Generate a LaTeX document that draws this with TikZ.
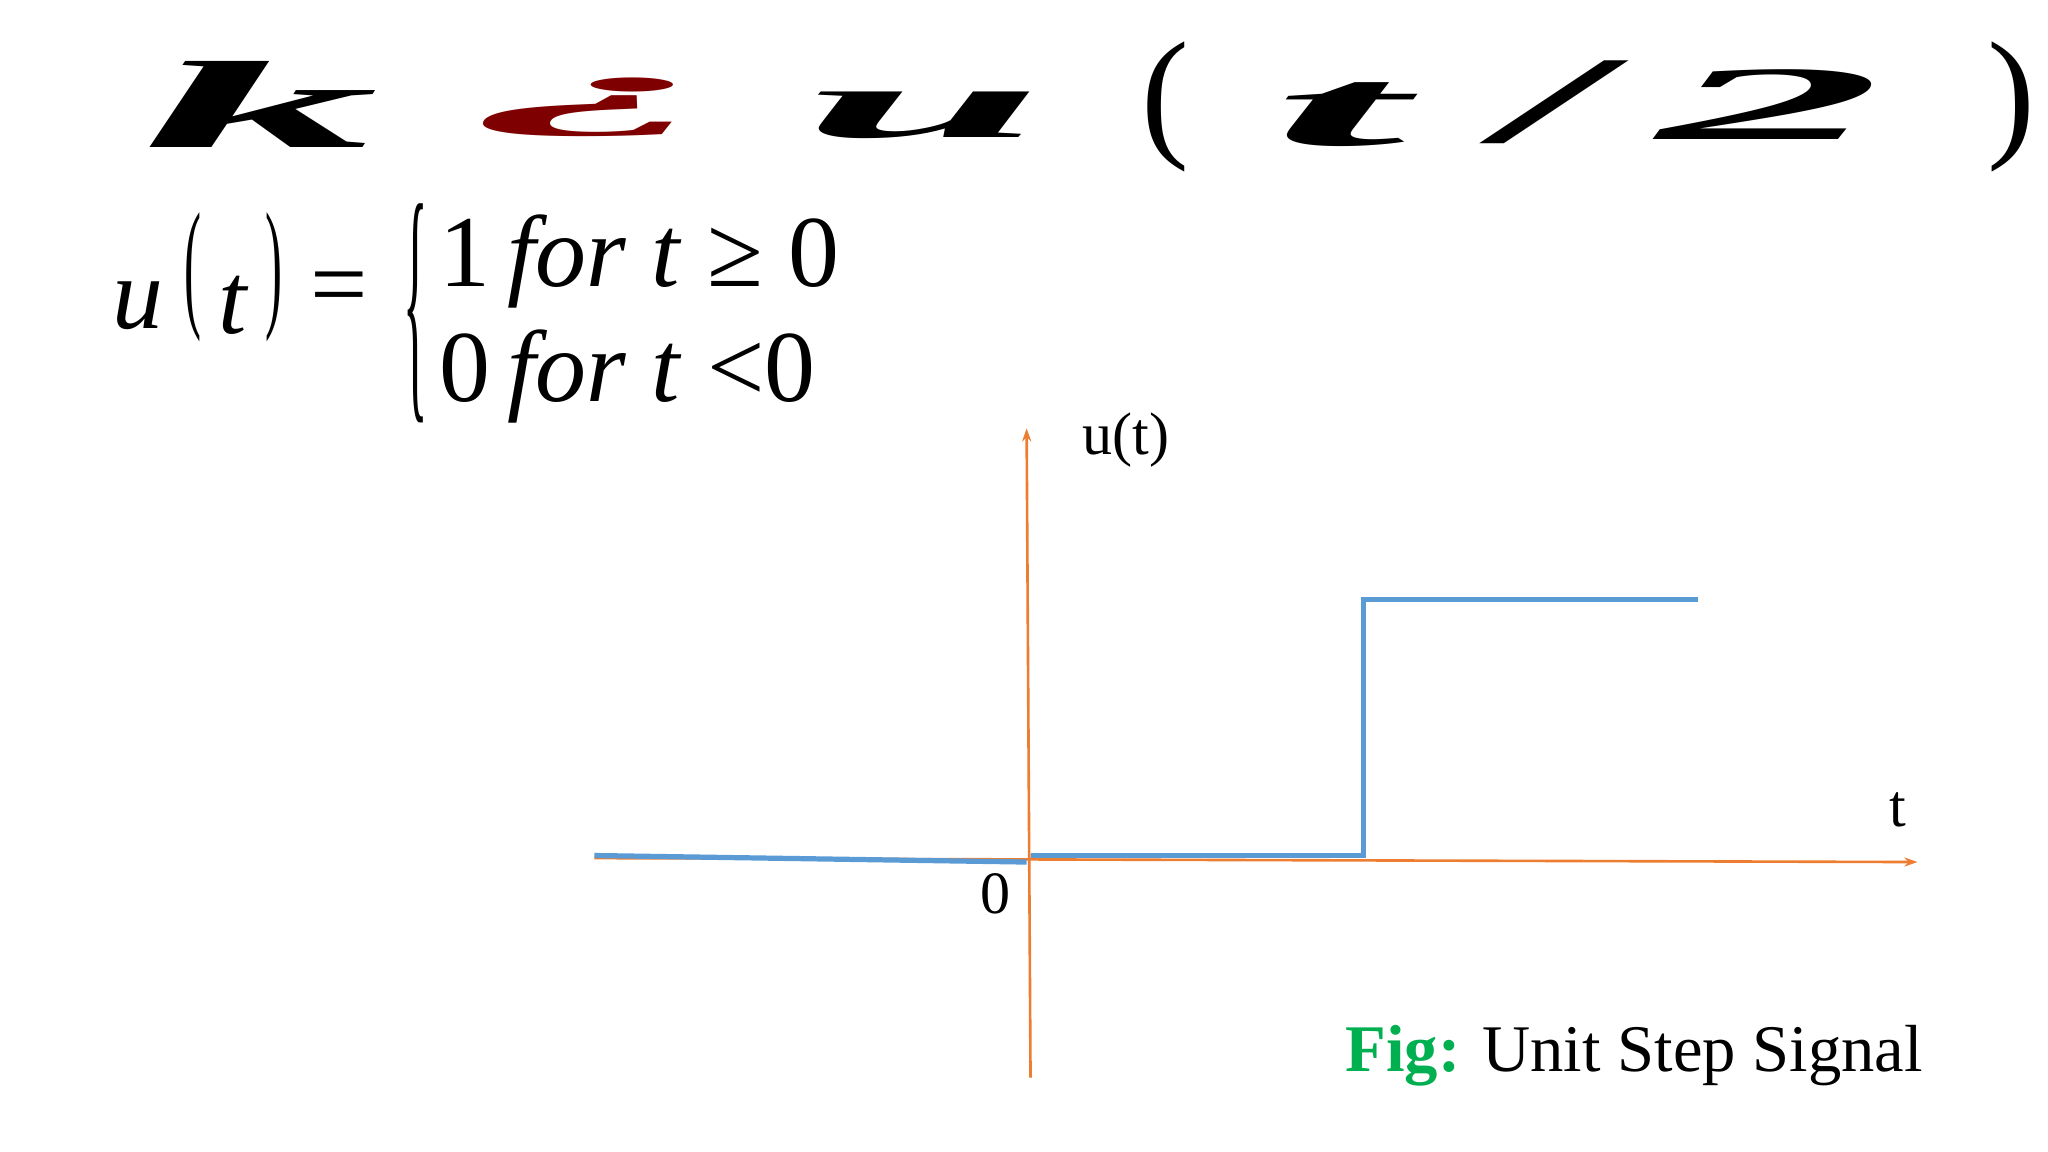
\documentclass[tikz,border=0pt]{standalone}
\usepackage{fontspec}
\setmainfont{Liberation Serif}
\usetikzlibrary{arrows.meta}
\definecolor{ax}{HTML}{ED7D31}
\definecolor{sig}{HTML}{5B9BD5}
\definecolor{dred}{HTML}{7F0000}
\definecolor{fgreen}{HTML}{00B050}
\begin{document}
\begin{tikzpicture}[x=1pt,y=-1pt,
  big/.style={inner sep=0pt,font=\fontsize{95}{100}\selectfont\bfseries\itshape},
  lbl/.style={inner sep=0pt,font=\fontsize{46}{50}\selectfont},
  fm/.style={inner sep=0pt,font=\fontsize{78}{82}\selectfont},
  fmi/.style={fm,font=\fontsize{78}{82}\selectfont\itshape},
  axis/.style={ax,line width=2pt,-{Stealth[length=10pt,width=7pt]}},
  sigl/.style={sig,line width=4pt}]
\useasboundingbox (0,0) rectangle (1568,882);
% title
\node[big] (k) at (200,80) {\scalebox{3.8}[1]{k}};
\node[big,text=dred] (q) at (458,82) {\scalebox{4.1}[0.7]{¿}};
\node[big] (u) at (707,88) {\scalebox{3.5}[0.8]{u}};
\node[inner sep=0pt,font=\fontsize{110}{110}\selectfont] (lp) at (892,82) {(};
\node[big] (t) at (1025,88) {\scalebox{3.9}[0.9]{t}};
\node[big] (sl) at (1188,78) {\scalebox{2.9}[1]{/}};
\node[big] (two) at (1355,80) {\scalebox{3.6}[0.85]{2}};
\node[inner sep=0pt,font=\fontsize{110}{110}\selectfont] (rp) at (1540,82) {)};
% formula
\node[fmi] (fu) at (106,234) {u};
\node[fm] (fl) at (148,212) {\scalebox{0.5}[1.4]{(}};
\node[fmi] (ft) at (178,234) {t};
\node[fm] (fr) at (210,212) {\scalebox{0.5}[1.4]{)}};
\node[fm] (feq) at (260,226) {=};
\node[fm] (fb) at (318,240) {\scalebox{0.5}[2.6]{\{}};
\node[fm,anchor=west] (l1) at (336,200) {1\,\textit{for t} ≥ 0};
\node[fm,anchor=west] (l2) at (336,288) {0\,\textit{for t} <0};
% axes
\coordinate (vb) at (789,825); \coordinate (vt) at (786,328);
\coordinate (hl) at (455,657); \coordinate (hr) at (1468,660);
\draw[axis] (vb) -- (vt);
\draw[axis] (hl) -- (hr);
% signal
\coordinate (s1) at (455,655); \coordinate (s2) at (786,660);
\coordinate (s3) at (789,655); \coordinate (s4) at (1044,655);
\coordinate (s5) at (1044,459); \coordinate (s6) at (1300,459);
\draw[sigl] (s1) -- (s2);
\draw[sigl,line join=miter] (s3) -- (s4) -- (s5) -- (s6);
\node[lbl] (ul) at (862,337) {u(t)};
\node[lbl] (tl) at (1453,620) {t};
\node[lbl] (zl) at (762,684) {0};
\node[lbl,anchor=west,font=\fontsize{51}{55}\selectfont] (fig) at (1030,808) {\textcolor{fgreen}{\textbf{Fig:}} Unit Step Signal};
\end{tikzpicture}
\end{document}
